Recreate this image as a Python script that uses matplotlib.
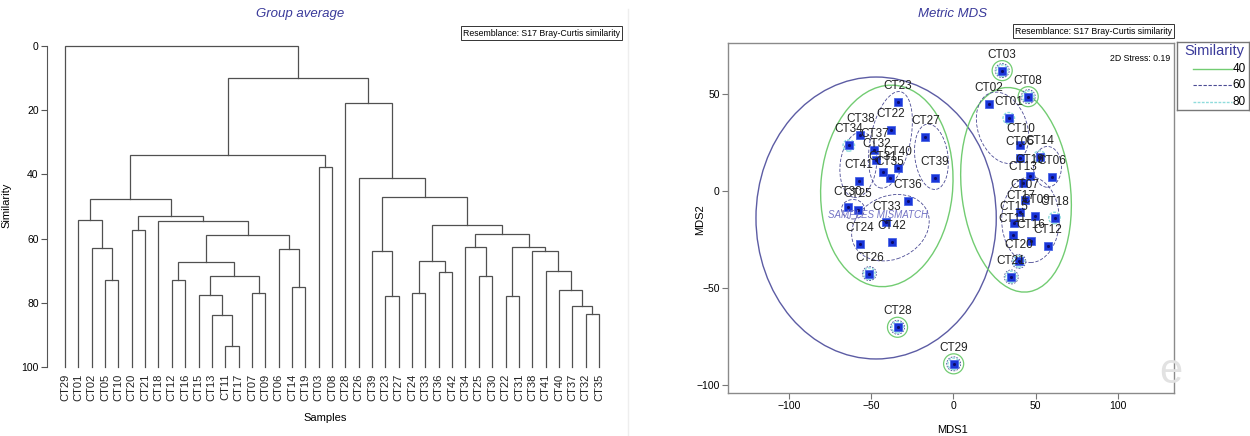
import matplotlib
matplotlib.use("Agg")
import matplotlib.pyplot as plt
from matplotlib.patches import Ellipse

plt.rcParams["font.family"] = ["Liberation Sans", "DejaVu Sans"]

# ---- dendrogram (group average, Bray-Curtis similarity) ----
LEAVES = ["CT29", "CT01", "CT02", "CT05", "CT10", "CT20", "CT21", "CT18", "CT12",
          "CT16", "CT15", "CT13", "CT11", "CT17", "CT07", "CT09", "CT06", "CT14",
          "CT19", "CT03", "CT08", "CT28", "CT26", "CT39", "CT23", "CT27", "CT24",
          "CT33", "CT36", "CT42", "CT34", "CT25", "CT30", "CT22", "CT31", "CT38",
          "CT41", "CT40", "CT37", "CT32", "CT35"]
# merge i joins MERGE_A[i] and MERGE_B[i] (leaf names or "n<k>" = earlier merge)
MERGE_A = ["CT05", "CT02", "CT01", "CT20", "CT12", "CT11", "CT13", "CT15", "CT07", "n7",
           "n4", "CT14", "CT06", "n10", "CT18", "n3", "n2", "CT03", "n16", "CT23",
           "CT39", "CT24", "CT36", "n21", "CT25", "CT34", "CT22", "CT32", "CT37", "CT40",
           "CT41", "CT38", "n26", "n25", "n23", "n20", "CT26", "CT28", "n18", "CT29"]
MERGE_B = ["CT10", "n0", "n1", "CT21", "CT16", "CT17", "n5", "n6", "CT09", "n8",
           "n9", "CT19", "n11", "n12", "n13", "n14", "n15", "CT08", "n17", "CT27",
           "n19", "CT33", "CT42", "n22", "CT30", "n24", "CT31", "CT35", "n27", "n28",
           "n29", "n30", "n31", "n32", "n33", "n34", "n35", "n36", "n37", "n38"]
MERGE_SIM = [73.0, 63.0, 54.2, 57.3, 73.0, 93.5, 83.8, 77.5, 77.0, 71.5,
             67.2, 75.0, 63.3, 59.0, 54.5, 53.0, 47.6, 37.6, 34.0, 78.0,
             64.0, 77.0, 70.3, 66.9, 71.5, 62.7, 78.0, 83.5, 81.0, 76.0,
             70.0, 64.0, 62.5, 58.6, 55.8, 47.0, 41.0, 17.9, 10.0, 0.0]
SIM_TICKS = [0, 20, 40, 60, 80, 100]

# ---- metric MDS ----
MDS_NAMES = ["CT23", "CT22", "CT27", "CT34", "CT38", "CT37", "CT32", "CT35", "CT31",
             "CT40", "CT41", "CT39", "CT36", "CT30", "CT25", "CT33", "CT24", "CT42",
             "CT26", "CT28", "CT29",
             "CT03", "CT08", "CT02", "CT01", "CT10", "CT05", "CT14", "CT19", "CT06",
             "CT13", "CT07", "CT17", "CT09", "CT18", "CT15", "CT11", "CT16", "CT12",
             "CT20", "CT21"]
MDS1 = [-33.9, -37.9, -17.0, -63.6, -56.5, -48.0, -46.8, -38.7, -42.7,
        -33.6, -57.6, -11.4, -27.8, -64.0, -58.2, -40.7, -57.0, -37.3,
        -51.1, -34.0, 0.1,
        29.6, 45.4, 21.5, 33.6, 40.7, 40.3, 52.3, 46.4, 60.0,
        42.4, 43.3, 40.7, 49.8, 61.4, 36.7, 36.0, 47.2, 57.3,
        39.7, 35.1]
MDS2 = [45.6, 31.3, 27.6, 23.3, 28.8, 21.1, 15.9, 6.8, 9.4,
        11.7, 4.8, 6.5, -5.5, -8.6, -10.1, -16.3, -27.2, -26.3,
        -42.6, -70.2, -89.0,
        61.8, 48.4, 44.7, 37.3, 23.6, 16.8, 17.6, 7.7, 7.0,
        4.0, -5.0, -11.1, -13.2, -14.0, -16.6, -22.6, -26.0, -28.6,
        -36.3, -44.3]
# similarity contours: (centre x, centre y, width, height, angle)
CONTOUR_20 = [(-47, -14, 146, 145, 0)]
CONTOUR_40 = [(-40.5, 2.5, 80, 104, -7.5), (38, 0.5, 66, 106, 9)]
CONTOUR_60 = [(-38.3, 26.2, 24, 51, -15), (-13.4, 17.5, 20, 34, 10),
              (-57.8, 13.4, 22, 34, -10), (-38.3, -19, 48, 33, 15),
              (-61, -9.5, 14, 10, 0), (29.8, 32.4, 29, 39, 30),
              (57.1, 12.3, 17, 21, 0), (46.8, -14.9, 35, 44, 0)]
SINGLE_40 = ["CT03", "CT08", "CT28", "CT29"]
SINGLE_60 = ["CT03", "CT08", "CT28", "CT29", "CT26", "CT21", "CT20"]
SINGLE_80 = ["CT03", "CT08", "CT01", "CT18", "CT28", "CT29", "CT26", "CT20",
             "CT21", "CT34", "CT14"]
LEGEND_LEVELS = ["40", "60", "80"]

TITLE_C = "#3a3a9a"
GREEN = "#72cc72"
DARK = "#4a4a94"
LIGHT = "#8fdcdc"

fig = plt.figure(figsize=(12.5, 4.36), dpi=100)

# ================= left: dendrogram =================
ax = fig.add_axes([47 / 1250, 69 / 436, 578 / 1250, 321 / 436])
pos = {n: i for i, n in enumerate(LEAVES)}
lev = {n: 100.0 for n in LEAVES}
for i, (a, b, s) in enumerate(zip(MERGE_A, MERGE_B, MERGE_SIM)):
    ax.plot([pos[a], pos[a], pos[b], pos[b]], [lev[a], s, s, lev[b]],
            color="#505050", lw=0.9, solid_joinstyle="miter", clip_on=False)
    pos["n%d" % i] = (pos[a] + pos[b]) / 2
    lev["n%d" % i] = s
ax.set_ylim(100, 0)
ax.set_xlim(-1.35, 41.95)
ax.set_yticks(SIM_TICKS)
ax.set_xticks(range(len(LEAVES)))
ax.set_xticklabels(LEAVES, rotation=90, fontsize=8, color="#222")
ax.tick_params(axis="x", length=0, pad=5)
ax.tick_params(axis="y", length=4, width=0.8, color="#555", labelsize=7.5, pad=2)
for sp in ["top", "right", "bottom"]:
    ax.spines[sp].set_visible(False)
ax.spines["left"].set_color("#555")
ax.spines["left"].set_linewidth(0.8)
ax.set_ylabel("Similarity", fontsize=8)
ax.yaxis.set_label_coords(-0.061, 0.505)
ax.set_xlabel("Samples", fontsize=8)
ax.xaxis.set_label_coords(0.481, -0.143)

fig.text(300 / 1250, 1 - 14 / 436, "Group average", ha="center", va="center",
         fontsize=9.5, style="italic", color=TITLE_C)
box = dict(boxstyle="square,pad=0.25", fc="white", ec="#333", lw=0.7)
fig.text(620 / 1250, 1 - 33 / 436, "Resemblance: S17 Bray-Curtis similarity",
         ha="right", va="center", fontsize=6.3, bbox=box)
fig.add_artist(plt.Line2D([628 / 1250, 628 / 1250], [0, 0.98], color="#eeeeee", lw=1))

# ================= right: metric MDS =================
ax2 = fig.add_axes([728 / 1250, 43 / 436, 446 / 1250, 350 / 436])
ax2.set_xlim(-137, 134)
ax2.set_ylim(-104, 76)
xy = dict(zip(MDS_NAMES, zip(MDS1, MDS2)))

for cx, cy, w, h, a in CONTOUR_20:
    ax2.add_patch(Ellipse((cx, cy), w, h, angle=a, fill=False, ec="#5c5ca4", lw=1.0))
for cx, cy, w, h, a in CONTOUR_40:
    ax2.add_patch(Ellipse((cx, cy), w, h, angle=a, fill=False, ec=GREEN, lw=1.0))
for cx, cy, w, h, a in CONTOUR_60:
    ax2.add_patch(Ellipse((cx, cy), w, h, angle=a, fill=False, ec=DARK, lw=0.6,
                          ls=(0, (4, 2))))
for n in SINGLE_40:
    ax2.add_patch(Ellipse(xy[n], 12.2, 10.3, fill=False, ec=GREEN, lw=0.9))
for n in SINGLE_60:
    ax2.add_patch(Ellipse(xy[n], 8.5, 7.2, fill=False, ec=DARK, lw=0.6, ls=(0, (2, 1.5))))
for n in SINGLE_80:
    ax2.add_patch(Ellipse(xy[n], 7.0, 5.9, fill=False, ec=LIGHT, lw=1.0, ls=(0, (2, 1))))

ax2.plot(MDS1, MDS2, "s", ms=6.2, mfc="#1a35d8", mec="#4a66e6", mew=0.6, zorder=5)
ax2.plot(MDS1, MDS2, ".", ms=2.5, color="#0c0c6a", zorder=6)
for n, x, y in zip(MDS_NAMES, MDS1, MDS2):
    ax2.annotate(n, (x, y), xytext=(0, 11.5), textcoords="offset points",
                 ha="center", va="center", fontsize=8.5, color="#222", zorder=7)

ax2.text(-46, -12.5, "SAMPLES MISMATCH", ha="center", va="center", fontsize=7,
         style="italic", color="#7373c4", zorder=8)
ax2.text(0.991, 0.957, "2D Stress: 0.19", transform=ax2.transAxes, ha="right",
         va="center", fontsize=6.3)

ax2.set_xticks([-100, -50, 0, 50, 100])
ax2.set_yticks([-100, -50, 0, 50])
ax2.tick_params(length=4, width=0.8, color="#777", labelsize=7.5, pad=2)
for sp in ax2.spines.values():
    sp.set_color("#8a8a8a")
    sp.set_linewidth(1.0)
ax2.set_xlabel("MDS1", fontsize=8)
ax2.xaxis.set_label_coords(0.504, -0.091)
ax2.set_ylabel("MDS2", fontsize=8)
ax2.yaxis.set_label_coords(-0.052, 0.494)

fig.text(953 / 1250, 1 - 14 / 436, "Metric MDS", ha="center", va="center",
         fontsize=9.5, style="italic", color=TITLE_C)
fig.text(1172 / 1250, 1 - 31 / 436, "Resemblance: S17 Bray-Curtis similarity",
         ha="right", va="center", fontsize=6.3, bbox=box)
fig.text(1171 / 1250, 1 - 372 / 436, "e", ha="center", va="center", fontsize=30,
         color="#e2e2e2")

# legend box
lg = fig.add_axes([1177 / 1250, 1 - 110 / 436, 72 / 1250, 68 / 436])
lg.set_xlim(0, 72)
lg.set_ylim(68, 0)
lg.set_xticks([])
lg.set_yticks([])
for sp in lg.spines.values():
    sp.set_color("#777")
    sp.set_linewidth(1.0)
lg.text(37, 8.5, "Similarity", ha="center", va="center", fontsize=10.5, color=TITLE_C)
styles = [dict(color=GREEN, lw=1.0, ls="-"),
          dict(color=DARK, lw=0.8, ls=(0, (3, 1.5))),
          dict(color=LIGHT, lw=1.0, ls=(0, (2, 1)))]
for k, (lab, st) in enumerate(zip(LEGEND_LEVELS, styles)):
    yy = 27 + 16.3 * k
    lg.plot([16, 55], [yy, yy], **st)
    lg.text(69, yy, lab, ha="right", va="center", fontsize=8.5)

fig.savefig("out.png", dpi=100)
